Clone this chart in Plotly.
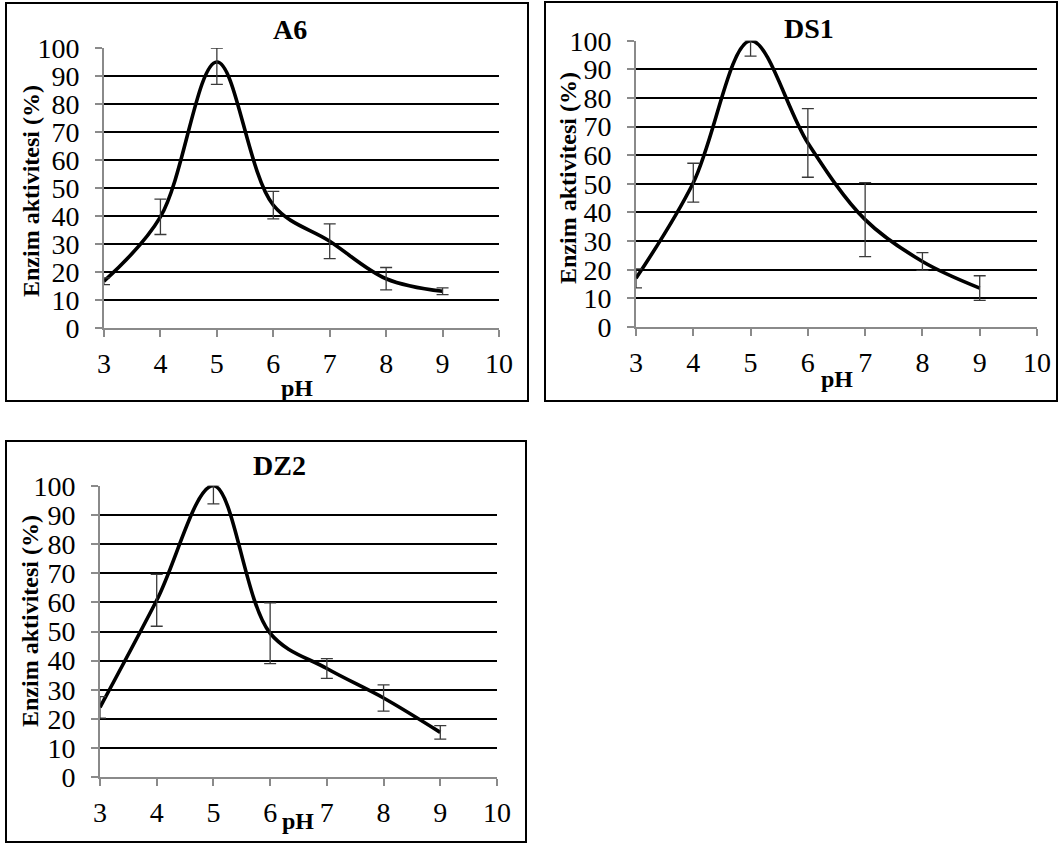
import plotly.graph_objects as go

W, H = 1060, 843

ph = [3, 4, 5, 6, 7, 8, 9]

a6_vals = [16.7, 39.7, 95.0, 43.9, 31.0, 17.6, 13.1]
a6_err_plus = [1.2, 6.3, 5.0, 4.9, 6.2, 4.0, 1.2]
a6_err_minus = [1.2, 6.3, 8.0, 4.9, 6.2, 4.0, 1.2]

ds1_vals = [17.0, 50.4, 100.0, 64.3, 37.5, 22.9, 13.6]
ds1_err_plus = [3.3, 6.8, 0.0, 12.0, 12.9, 3.1, 4.3]
ds1_err_minus = [3.3, 6.8, 5.4, 12.0, 12.9, 3.1, 4.3]

dz2_vals = [24.0, 60.7, 100.0, 49.4, 37.3, 27.2, 15.4]
dz2_err_plus = [3.7, 8.9, 0.0, 10.4, 3.4, 4.5, 2.3]
dz2_err_minus = [3.7, 8.9, 6.2, 10.4, 3.4, 4.5, 2.3]

titles = ["A6", "DS1", "DZ2"]
y_title = "Enzim aktivitesi (%)"
x_title = "pH"
y_ticks = list(range(0, 101, 10))
x_ticks = list(range(3, 11))

FONT = "Liberation Serif"

def px(x):
    return x / W

def py(y):
    return 1 - y / H

areas = [(104, 499, 48, 328), (636, 1037, 40.7, 327), (100, 497, 485.7, 777.3)]
boxes = [(6, 528, 3, 401), (545, 1057, 2, 401), (6, 526, 441, 842)]
title_pos = [(290, 29), (809, 28), (279, 465)]
ytitle_pos = [(31, 191), (568, 178), (30, 621)]
xtitle_pos = [(297, 388), (837, 379), (298, 821)]

series = [
    (a6_vals, a6_err_plus, a6_err_minus),
    (ds1_vals, ds1_err_plus, ds1_err_minus),
    (dz2_vals, dz2_err_plus, dz2_err_minus),
]

fig = go.Figure()
layout = dict(
    width=W, height=H, margin=dict(l=0, r=0, t=0, b=0), autosize=False,
    paper_bgcolor="white", plot_bgcolor="white", showlegend=False,
    font=dict(family=FONT, color="black", size=24),
)
annotations = []
shapes = []
for i, ((vals, ep, em), (l, r, t, b)) in enumerate(zip(series, areas)):
    sfx = "" if i == 0 else str(i + 1)
    xa = "x" + sfx
    ya = "y" + sfx
    fig.add_trace(go.Scatter(
        x=ph, y=vals, mode="lines", line=dict(color="black", width=3.6, shape="spline", smoothing=1.0),
        xaxis=xa, yaxis=ya, hoverinfo="skip", cliponaxis=True))
    fig.add_trace(go.Scatter(
        x=ph, y=vals, mode="markers", marker=dict(size=1, color="rgba(0,0,0,0)"),
        error_y=dict(type="data", symmetric=False, array=ep, arrayminus=em,
                     color="#3a3a3a", thickness=1.3, width=6),
        xaxis=xa, yaxis=ya, hoverinfo="skip", cliponaxis=False))
    layout["xaxis" + sfx] = dict(
        domain=[px(l), px(r)], range=[3, 10], tickvals=x_ticks, ticks="outside", ticklen=7,
        tickcolor="#8a8a8a", tickwidth=2, showline=True, linecolor="#8a8a8a", linewidth=2,
        showgrid=False, zeroline=False, anchor=ya, fixedrange=True, automargin=False,
        tickfont=dict(family=FONT, size=28, color="black"), ticklabelstandoff=2)
    layout["yaxis" + sfx] = dict(
        domain=[py(b), py(t)], range=[0, 100], tickvals=y_ticks, ticks="outside", ticklen=7,
        tickcolor="#8a8a8a", tickwidth=2, showline=True, linecolor="#8a8a8a", linewidth=2,
        showgrid=True, gridcolor="black", gridwidth=2, zeroline=False, anchor=xa,
        fixedrange=True, automargin=False,
        tickfont=dict(family=FONT, size=28, color="black"), ticklabelstandoff=10)
    bx0, bx1, by0, by1 = boxes[i]
    shapes.append(dict(type="rect", xref="paper", yref="paper", x0=px(bx0), x1=px(bx1),
                       y0=py(by1), y1=py(by0), line=dict(color="black", width=2)))
    annotations.append(dict(text="<b>%s</b>" % titles[i], x=px(title_pos[i][0]), y=py(title_pos[i][1]),
                            xref="paper", yref="paper", showarrow=False, xanchor="center", yanchor="middle",
                            font=dict(family=FONT, size=28, color="black")))
    annotations.append(dict(text="<b>%s</b>" % y_title, x=px(ytitle_pos[i][0]), y=py(ytitle_pos[i][1]),
                            xref="paper", yref="paper", showarrow=False, xanchor="center", yanchor="middle",
                            textangle=-90, font=dict(family=FONT, size=24, color="black")))
    annotations.append(dict(text="<b>%s</b>" % x_title, x=px(xtitle_pos[i][0]), y=py(xtitle_pos[i][1]),
                            xref="paper", yref="paper", showarrow=False, xanchor="center", yanchor="middle",
                            font=dict(family=FONT, size=24, color="black")))

layout["annotations"] = annotations
layout["shapes"] = shapes
fig.update_layout(**layout)
fig.write_html("out.html")
